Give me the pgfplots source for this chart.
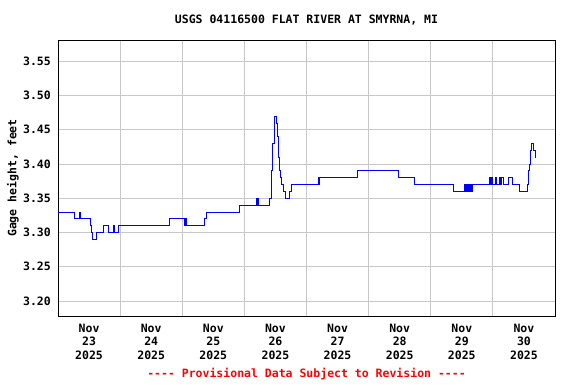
\documentclass[border=0pt]{standalone}
\usepackage{pgfplots}
\pgfplotsset{compat=1.18}
\usepackage{fontspec}
\setmainfont{DejaVu Sans Mono}[Ligatures=ResetAll]
\setmonofont{DejaVu Sans Mono}
\definecolor{gridgray}{RGB}{200,200,200}
\definecolor{usgsblue}{RGB}{0,0,255}
\definecolor{usgsred}{RGB}{255,0,0}
\newcommand{\lblfont}{\fontsize{11.5}{13.3}\selectfont\bfseries}
\begin{document}
\begin{tikzpicture}[x=1pt,y=1pt]
\useasboundingbox (0,0) rectangle (576,384);
\begin{axis}[
  at={(58pt,68pt)}, anchor=south west,
  scale only axis, width=497pt, height=276pt,
  xmin=0, xmax=8, ymin=3.1781, ymax=3.5811,
  axis line style={line width=1pt},
  xtick={0.5,1.5,2.5,3.5,4.5,5.5,6.5,7.5},
  xticklabels={Nov\\23\\2025,Nov\\24\\2025,Nov\\25\\2025,Nov\\26\\2025,Nov\\27\\2025,Nov\\28\\2025,Nov\\29\\2025,Nov\\30\\2025},
  xticklabel style={align=center, font=\lblfont, inner sep=0pt, yshift=-8pt},
  minor xtick={1,2,3,4,5,6,7},
  xminorgrids=true, xmajorgrids=false,
  ytick={3.20,3.25,3.30,3.35,3.40,3.45,3.50,3.55},
  yticklabel style={font=\lblfont, inner sep=0pt, xshift=-7pt},
  yticklabel={\pgfmathprintnumber[fixed,fixed zerofill,precision=2]{\tick}},
  /pgf/number format/assume math mode=true,
  ymajorgrids=true,
  grid style={gridgray, line width=0.8pt},
  minor grid style={gridgray, line width=0.8pt},
  major tick length=0pt, minor tick length=0pt,
  tick style={draw=none},
  clip=true,
]
\addplot[const plot, usgsblue, line width=0.8pt, mark=none] coordinates {
(0,3.33) (0.265,3.32) (0.338,3.33) (0.354,3.32) (0.514,3.31) (0.539,3.30)
(0.558,3.29) (0.611,3.30) (0.732,3.31) (0.815,3.30) (0.892,3.31) (0.908,3.30)
(0.965,3.31) (1.801,3.32) (2.042,3.31) (2.053,3.32) (2.066,3.31) (2.363,3.32)
(2.387,3.33) (2.915,3.34) (3.188,3.35) (3.199,3.34) (3.211,3.35) (3.220,3.34)
(3.408,3.35) (3.429,3.39) (3.452,3.43) (3.477,3.47) (3.516,3.46) (3.532,3.44)
(3.553,3.41) (3.569,3.39) (3.585,3.38) (3.601,3.37) (3.622,3.36) (3.654,3.35)
(3.719,3.36) (3.757,3.37) (4.185,3.38) (4.196,3.37) (4.212,3.38) (4.812,3.39)
(5.477,3.38) (5.735,3.37) (6.367,3.36) (6.548,3.37) (6.559,3.36) (6.580,3.37)
(6.592,3.36) (6.613,3.37) (6.624,3.36) (6.640,3.37) (6.651,3.36) (6.677,3.37)
(6.945,3.38) (6.961,3.37) (6.977,3.38) (6.994,3.37) (7.042,3.38) (7.058,3.37)
(7.106,3.38) (7.122,3.37) (7.143,3.38) (7.166,3.37) (7.256,3.38) (7.310,3.37)
(7.428,3.36) (7.561,3.37) (7.572,3.39) (7.588,3.40) (7.605,3.42) (7.621,3.43)
(7.645,3.42) (7.677,3.41) (7.696,3.41)
};
\end{axis}
\node[font=\lblfont, anchor=center] at (306.5,364) {USGS 04116500 FLAT RIVER AT SMYRNA, MI};
\node[font=\lblfont, anchor=center, rotate=90] at (13,206) {Gage height, feet};
\node[font=\lblfont, anchor=center, text=usgsred] at (306.5,10) {{-}{-}{-}{-} Provisional Data Subject to Revision {-}{-}{-}{-}};
\end{tikzpicture}
\end{document}
